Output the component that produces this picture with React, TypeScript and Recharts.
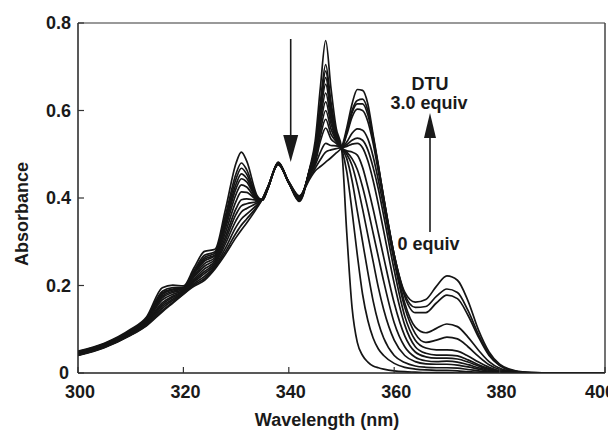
import React from 'react';
import { LineChart, Line, XAxis, YAxis, ReferenceLine } from 'recharts';

const wavelengths = [
  300, 305, 310, 313, 316, 318, 320, 322, 324, 326,
  328, 330, 331, 332, 334, 335, 336, 338, 340, 342,
  344, 345, 346, 347, 348, 349, 350, 351, 352, 353,
  354, 355, 356, 357, 358, 360, 362, 364, 366, 368,
  370, 372, 374, 376, 378, 380, 383, 386, 390, 400,
];

// 0 equiv
const abs00 = [
  .050, .068, .100, .128, .195, .201, .199, .240, .278, .283,
  .375, .480, .505, .485, .405, .395, .420, .482, .435, .392,
  .470, .530, .654, .760, .651, .559, .515, .320, .150, .070,
  .040, .025, .016, .012, .009, .005, .003, .002, .001, .001,
  .001, 0, 0, 0, 0, 0, 0, 0, 0, 0,
];
const abs01 = [
  .049, .067, .098, .125, .187, .195, .196, .234, .269, .277,
  .361, .456, .480, .465, .402, .395, .421, .481, .434, .394,
  .468, .515, .620, .705, .619, .550, .515, .460, .370, .270,
  .180, .120, .080, .055, .040, .022, .013, .009, .007, .006,
  .006, .005, .003, .002, .001, 0, 0, 0, 0, 0,
];
const abs02 = [
  .048, .066, .097, .124, .183, .192, .195, .231, .264, .274,
  .353, .444, .468, .455, .400, .396, .421, .481, .435, .395,
  .467, .512, .610, .690, .610, .547, .515, .490, .440, .370,
  .300, .230, .165, .115, .080, .040, .024, .016, .013, .012,
  .012, .011, .008, .005, .002, .001, 0, 0, 0, 0,
];
const abs03 = [
  .047, .065, .096, .122, .180, .190, .194, .228, .260, .270,
  .346, .432, .455, .445, .399, .396, .421, .480, .435, .396,
  .466, .508, .601, .675, .602, .545, .515, .500, .475, .430,
  .375, .315, .255, .195, .145, .075, .040, .026, .021, .020,
  .020, .018, .014, .009, .004, .002, 0, 0, 0, 0,
];
const abs04 = [
  .047, .065, .095, .121, .176, .187, .193, .226, .256, .268,
  .340, .422, .444, .437, .398, .396, .422, .480, .436, .397,
  .465, .505, .592, .660, .593, .542, .515, .505, .490, .465,
  .425, .375, .320, .265, .210, .115, .060, .036, .028, .026,
  .027, .025, .019, .012, .006, .002, 0, 0, 0, 0,
];
const abs05 = [
  .046, .064, .094, .120, .172, .184, .191, .222, .250, .264,
  .332, .409, .430, .425, .397, .396, .422, .479, .436, .398,
  .463, .500, .579, .640, .581, .539, .515, .508, .505, .498,
  .470, .425, .375, .320, .265, .160, .085, .048, .037, .034,
  .034, .032, .025, .016, .008, .003, .001, 0, 0, 0,
];
const abs06 = [
  .045, .063, .093, .118, .167, .180, .189, .219, .244, .260,
  .322, .393, .414, .413, .396, .397, .422, .479, .435, .399,
  .461, .495, .567, .620, .570, .535, .515, .518, .523, .525,
  .515, .485, .440, .385, .325, .205, .110, .060, .045, .041,
  .041, .039, .030, .019, .010, .004, .001, 0, 0, 0,
];
const abs07 = [
  .044, .062, .091, .116, .161, .176, .187, .214, .238, .256,
  .312, .376, .396, .398, .395, .397, .423, .478, .434, .400,
  .459, .490, .554, .600, .558, .532, .515, .522, .532, .537,
  .532, .510, .470, .420, .360, .235, .130, .075, .057, .053,
  .053, .050, .039, .025, .013, .005, .001, 0, 0, 0,
];
const abs08 = [
  .043, .061, .090, .114, .157, .173, .186, .211, .232, .252,
  .304, .363, .382, .387, .392, .397, .423, .478, .434, .401,
  .457, .485, .542, .580, .546, .529, .515, .528, .548, .558,
  .555, .535, .495, .440, .380, .255, .150, .090, .070, .075,
  .082, .078, .060, .038, .019, .008, .002, 0, 0, 0,
];
const abs09 = [
  .042, .060, .089, .113, .153, .169, .184, .208, .227, .248,
  .296, .349, .368, .376, .389, .397, .424, .477, .435, .402,
  .455, .480, .530, .560, .535, .525, .515, .545, .585, .603,
  .600, .575, .525, .460, .395, .265, .160, .105, .092, .102,
  .112, .106, .082, .052, .026, .011, .003, 0, 0, 0,
];
const abs10 = [
  .041, .059, .088, .111, .148, .166, .183, .204, .221, .244,
  .286, .334, .352, .363, .385, .398, .424, .477, .436, .403,
  .452, .475, .505, .525, .520, .519, .515, .550, .595, .615,
  .615, .590, .535, .470, .400, .270, .175, .138, .138, .160,
  .178, .170, .132, .082, .040, .017, .004, .001, 0, 0,
];
const abs11 = [
  .041, .059, .087, .109, .143, .162, .181, .201, .216, .241,
  .278, .320, .338, .352, .381, .398, .425, .476, .437, .404,
  .448, .468, .488, .505, .510, .513, .515, .553, .600, .623,
  .626, .600, .540, .473, .402, .270, .180, .150, .152, .175,
  .192, .184, .143, .088, .043, .018, .004, .001, 0, 0,
];
// 3.0 equiv
const abs12 = [
  .040, .058, .086, .108, .140, .160, .180, .198, .212, .238,
  .272, .310, .327, .343, .378, .398, .425, .476, .437, .405,
  .444, .462, .472, .482, .492, .503, .515, .560, .615, .648,
  .646, .615, .545, .475, .400, .270, .185, .162, .168, .198,
  .222, .212, .165, .098, .048, .020, .005, .001, 0, 0,
];

const seriesList = [abs00, abs01, abs02, abs03, abs04, abs05, abs06, abs07, abs08, abs09, abs10, abs11, abs12];
const xTicks = [300, 320, 340, 360, 380, 400];
const yTicks = [0, 0.2, 0.4, 0.6, 0.8];

const data = wavelengths.map((w, i) => {
  const row: Record<string, number> = { wl: w };
  seriesList.forEach((s, k) => {
    row['s' + k] = s[i];
  });
  return row;
});

const FONT = '"Liberation Sans", Arial, Helvetica, sans-serif';
const INK = '#1a1a1a';

function XTick(props: any) {
  const { x, y, payload } = props;
  const shift = payload.value === 400 ? -5 : 2;
  return (
    <g>
      <line x1={x} x2={x} y1={y - 8} y2={y - 14} stroke="#333" strokeWidth={1.2} />
      <text x={x + shift} y={y + 17} textAnchor="middle" fontFamily={FONT} fontWeight="bold" fontSize={18} fill={INK}>
        {payload.value}
      </text>
    </g>
  );
}

function YTick(props: any) {
  const { x, y, payload } = props;
  const v = payload.value;
  const label = v === 0 ? '0' : v.toFixed(1);
  return (
    <g>
      <line x1={x + 8} x2={x + 14} y1={y} y2={y} stroke="#333" strokeWidth={1.2} />
      <text x={v === 0 ? x - 1 : x + 1} y={y + 6} textAnchor="end" fontFamily={FONT} fontWeight="bold" fontSize={18} fill={INK}>
        {label}
      </text>
    </g>
  );
}

export default function App() {
  return (
    <LineChart
      width={608}
      height={423}
      data={data}
      margin={{ top: 15, right: 11, bottom: 28, left: 0 }}
      style={{ background: '#fff' }}
    >
      <XAxis
        dataKey="wl"
        type="number"
        domain={[300, 400]}
        ticks={xTicks}
        interval={0}
        height={30}
        tickSize={6}
        tickMargin={2}
        tickLine={false}
        axisLine={{ stroke: '#222', strokeWidth: 1.5 }}
        tick={<XTick />}
        allowDataOverflow
      />
      <YAxis
        type="number"
        domain={[0, 0.8]}
        ticks={yTicks}
        interval={0}
        width={70}
        tickSize={6}
        tickMargin={2}
        tickLine={false}
        axisLine={{ stroke: '#222', strokeWidth: 1.5 }}
        tick={<YTick />}
        allowDataOverflow
      />
      <ReferenceLine y={0.8} stroke="#777" strokeWidth={1.5} />
      <ReferenceLine x={400} stroke="#444" strokeWidth={1.5} />
      {seriesList.map((_, k) => (
        <Line
          key={k}
          dataKey={'s' + k}
          type="monotone"
          stroke="#151515"
          strokeWidth={1.7}
          dot={false}
          activeDot={false}
          isAnimationActive={false}
        />
      ))}
      <g>
        <line x1={282.7} x2={282.7} y1={31} y2={132} stroke={INK} strokeWidth={1.6} />
        <polygon points="282.7,154 275.2,127 290.2,127" fill={INK} />
        <line x1={422} x2={422} y1={224} y2={126} stroke={INK} strokeWidth={1.6} />
        <polygon points="422,105 416,130 428,130" fill={INK} />
        <text x={422} y={82} textAnchor="middle" fontFamily={FONT} fontWeight="bold" fontSize={18} fill={INK}>DTU</text>
        <text x={421} y={100.5} textAnchor="middle" fontFamily={FONT} fontWeight="bold" fontSize={18} fill={INK}>3.0 equiv</text>
        <text x={420.5} y={241.5} textAnchor="middle" fontFamily={FONT} fontWeight="bold" fontSize={18} fill={INK}>0 equiv</text>
        <text x={319} y={417.5} textAnchor="middle" fontFamily={FONT} fontWeight="bold" fontSize={18} fill={INK}>Wavelength (nm)</text>
        <text
          x={14}
          y={206}
          textAnchor="middle"
          dominantBaseline="central"
          transform="rotate(-90 14 206)"
          fontFamily={FONT}
          fontWeight="bold"
          fontSize={18}
          fill={INK}
        >
          Absorbance
        </text>
      </g>
    </LineChart>
  );
}
